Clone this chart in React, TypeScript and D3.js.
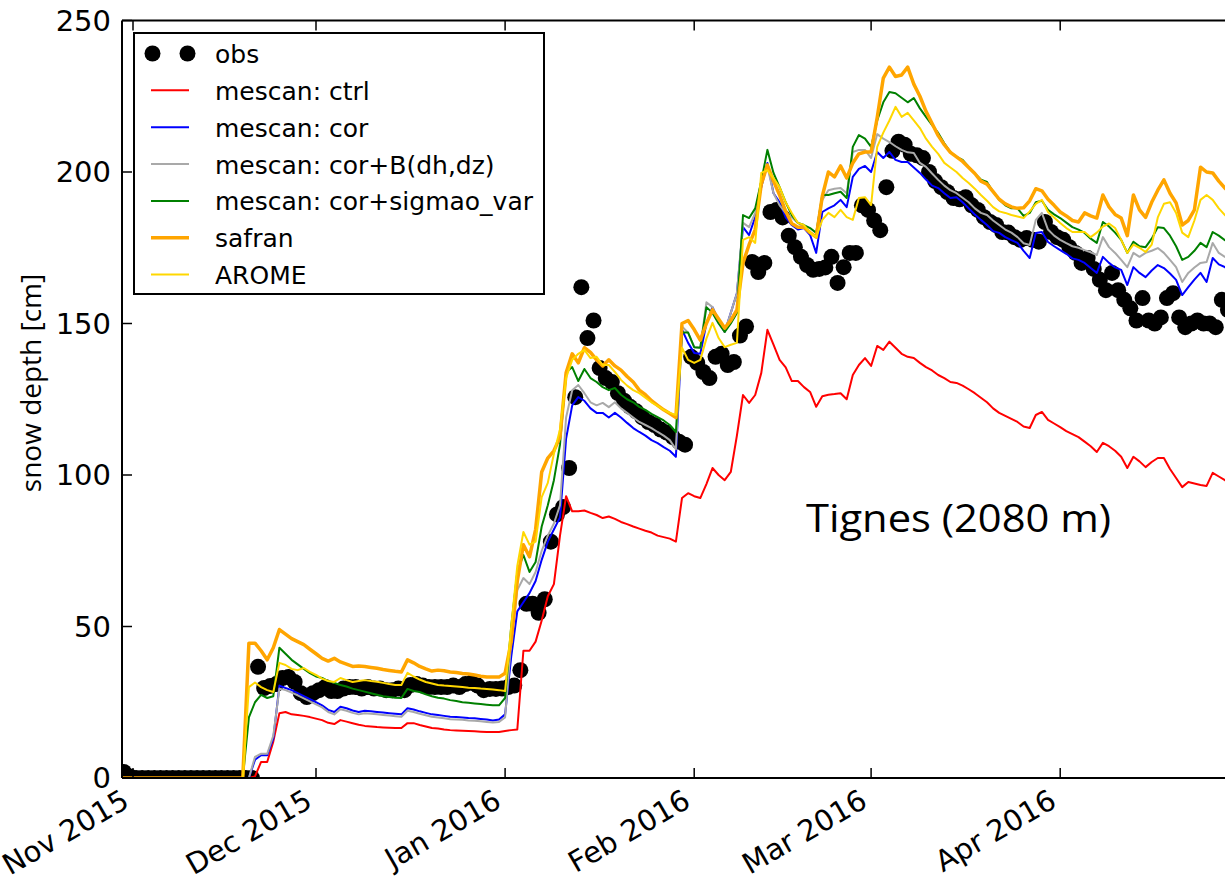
import React from "react";
import * as d3 from "d3";

const firstDay = "2015-10-30";

const obsDepth = [
  2, 0.5,
  0, 0, 0, 0, 0, 0, 0, 0, 0, 0, 0, 0, 0, 0, 0, 0, 0, 0, 0, 0,
  36.7, 29.7, 30.4, 31, 33, 33.3, 31.7, 28, 26.7, 28,
  29, 30, 28.7, 28.7, 29.5, 30, 30, 29.5, 30, 29.5,
  29.5, 29, 29, 29.5, 29, 30.7, 31, 30.5, 30, 30,
  30, 30, 30.5, 30, 31, 31.4, 30.5, 29, 29.4, 29.4,
  29.5, 30, 30.5, 35.6, 57.5, 57.5, 54.5, 59, 78, 87,
  89.4, 102.3, 125.7, 162, 145.2, 151, 135.3, 132, 130.7, 127,
  124.5, 122.5, 121, 119, 117.5, 116.5, 115, 114, 112.5, 111,
  110, 139, 137, 134, 132, 139, 140, 136.3, 137.3, 146,
  149, 170.3, 167, 170, 186.8, 187.5, 185, 179, 175.2, 172,
  169.3, 167.7, 168, 168.5, 172, 163.4, 168.6, 173.3, 173.3, 189,
  187.5, 184, 180.8, 195, 207, 210, 209, 206, 205.5, 204.6,
  200, 197, 195, 193.4, 191.4, 191, 191.7, 189, 187.5, 185.1,
  183.5, 182.5, 180.2, 180, 178.5, 177.6, 178.2, 177.6, 177, 183.5,
  180.2, 178.5, 177.6, 175.2, 173.3, 170, 171.6, 168, 164.4, 161,
  166.7, 161, 157.8, 155, 151, 158.4, 151, 150, 152, 158.4,
  160, 152, 148.8, 150, 151, 150, 150, 148.8, 157.8, 154.5,
];

const ctrl = [
  0, 0, 0, 0, 0, 0, 0, 0, 0, 0, 0, 0, 0, 0, 0, 0, 0, 0, 0, 0, 0, 0,
  0.5, 5.3, 5.3, 12, 21.4, 21.8, 21, 20.8, 20.5, 20.1,
  19.6, 19.1, 18.2, 17.8, 19.1, 18.6, 18.1, 17.6, 17.2, 17,
  16.8, 16.7, 16.6, 16.5, 16.5, 18.1, 18.1, 17.5, 17, 16.5,
  16.3, 16, 15.8, 15.7, 15.6, 15.5, 15.4, 15.3, 15.2, 15.2,
  15.2, 15.5, 15.8, 16, 42, 42, 45, 52, 60, 64,
  80, 93, 88, 88, 88.3, 87.5, 86.8, 85.8, 86.3, 85.5,
  84.5, 83.8, 83, 82.3, 81.6, 81, 80, 79.5, 79, 78,
  92.4, 94, 93, 92.4, 97, 102.3, 100, 98.3, 101, 113,
  126.4, 123.8, 126.4, 133.7, 147.9, 143, 138, 135.5, 131, 131,
  129, 127.4, 122.5, 126, 126.5, 126.7, 127, 125, 133, 136.3,
  138.6, 136, 142.6, 141.3, 144, 142, 140, 139, 138.6, 137,
  135.6, 134.5, 133, 132, 130.7, 130.4, 129.5, 128.3, 127, 125.5,
  124, 122, 120.5, 119.5, 118.5, 117.5, 116, 115.5, 119.8, 120.8,
  118.2, 117, 115.8, 114.5, 113.5, 112.5, 111, 109.5, 107.6, 110.6,
  109.5, 108, 106, 102.3, 106, 104.5, 102.6, 104.3, 105.6, 105.6,
  102, 99, 96, 97.7, 97.2, 96.7, 96.4, 100.7, 99.5, 98.3,
  97,
];

const cor = [
  0, 0, 0, 0, 0, 0, 0, 0, 0, 0, 0, 0, 0, 0, 0, 0, 0, 0, 0, 0, 0, 0,
  6, 7.5, 7.5, 13, 30.5, 29.7, 29, 28, 27, 26,
  25, 24, 22.5, 21.8, 23.5, 23, 22.3, 21.8, 22.2, 22,
  21.8, 21.6, 21.4, 21.2, 21, 23, 22.6, 22, 21.5, 21,
  20.8, 20.5, 20.2, 20.1, 20, 19.8, 19.7, 19.5, 19.3, 19,
  19.3, 21, 40, 55, 58, 61, 65, 72, 78, 82,
  86, 112, 123, 125.7, 124.5, 122, 120.5, 120.5, 119, 120.5,
  119, 117.2, 115.5, 114.2, 113, 111.5, 110.5, 109.2, 108, 106,
  148, 143.6, 140.3, 140, 150, 155.4, 151, 147.2, 153.5, 160,
  181.8, 179.2, 185.1, 195, 203, 193, 190, 185, 182.5, 181,
  181.5, 179.2, 173.3, 186.8, 188, 189, 190.8, 188.4, 198.4, 201,
  202, 200, 206.6, 204.6, 206.6, 204, 203.3, 203.3, 201.5, 199.7,
  197.5, 195.5, 194.7, 193, 191.4, 191.7, 190, 188, 186, 184.2,
  182.5, 180.5, 179.9, 178.5, 177.5, 176.6, 174, 171.6, 179.9, 180.2,
  176.9, 175.5, 174.2, 173, 171.5, 171, 170, 168.3, 166.7, 172,
  170, 168.5, 167.7, 162.7, 168.6, 166.7, 165.3, 167.5, 169.3, 168.3,
  166.5, 164.4, 159.4, 162, 164.5, 166.7, 163.7, 171.6, 169.5, 168.6,
  167,
];

const corB = [
  0, 0, 0, 0, 0, 0, 0, 0, 0, 0, 0, 0, 0, 0, 0, 0, 0, 0, 0, 0, 0, 0,
  7, 8, 8, 14, 29.5, 29, 28.2, 27.3, 26.3, 25.3,
  24.3, 23.3, 21.8, 21, 22.7, 22.2, 21.5, 21, 21.4, 21.2,
  21, 20.8, 20.6, 20.4, 20.2, 22.2, 21.8, 21.2, 20.7, 20.2,
  20, 19.7, 19.4, 19.3, 19.2, 19, 18.9, 18.7, 18.5, 18.3,
  18.5, 20, 45, 62, 66, 64, 68, 75, 80, 84,
  90, 119, 128, 129.7, 127, 124, 123, 123.8, 122.4, 124,
  122, 120.5, 119, 117.5, 116.5, 115.5, 114.2, 113, 111.5, 108.5,
  149, 147, 142.2, 142, 157, 155.4, 151, 147.2, 153.5, 160,
  183.2, 181.8, 186.5, 197, 201.7, 193, 189, 186.5, 185, 183.2,
  181.8, 180, 178.5, 190.8, 194, 194.5, 194.7, 193, 206.6, 207.3,
  207.3, 204.6, 212.5, 211, 209.9, 208.5, 207.3, 206.5, 206.3, 203,
  201.7, 199.5, 197.4, 195.5, 194, 193, 191.5, 190, 188, 186.5,
  185.8, 184, 182.5, 181, 180, 178.5, 176.5, 175.9, 184.2, 186.5,
  181, 179, 177.6, 176.5, 175.5, 175, 174.2, 173.5, 172.6, 178.5,
  175.2, 173.3, 171, 168.6, 173.3, 172, 173.3, 174, 174.9, 173.3,
  171, 168.6, 163.7, 166.7, 168.5, 170, 170.3, 176.6, 173.3, 172,
  171,
];

const sigmao = [
  0, 0, 0, 0, 0, 0, 0, 0, 0, 0, 0, 0, 0, 0, 0, 0, 0, 0, 0, 0, 0,
  20, 25, 27.4, 26.4, 27, 43, 41, 39, 37.5, 36,
  34.6, 33.5, 33, 32, 31.4, 30.7, 30.2, 29.5, 29, 28.5,
  28, 27.5, 27, 26.7, 26.5, 26.4, 29.4, 28.7, 28.4, 27.6,
  27, 26.5, 26.2, 25.7, 25.4, 25, 24.8, 24.6, 24.4, 24.2,
  24, 24, 26.4, 50, 68, 73.6, 68, 71.3, 83, 90,
  98.3, 110, 134, 135.6, 131, 135, 132, 130.7, 129, 128,
  128.7, 126.5, 125, 124, 122.5, 121.5, 120.2, 119.1, 118, 116.5,
  114.2, 147, 147, 142.2, 142, 155.4, 153.5, 150, 147.2, 150,
  153.5, 185.8, 184.8, 188, 197, 207.3, 199.7, 195, 190, 185.8,
  183.2, 182.5, 181.5, 179.9, 192.4, 192.4, 193, 193.5, 191.4, 208.3,
  212.2, 211, 208.3, 217, 223, 226.4, 226, 224.5, 223, 224.4,
  221, 218.2, 215.5, 212.9, 209.5, 206.6, 205, 204, 201.7, 199.5,
  197.5, 196.7, 193.5, 190.8, 189, 188, 188, 185.5, 186.5, 190,
  190.5, 187.5, 186, 184.8, 183.3, 181.8, 181, 179.9, 178, 176.6,
  183.5, 182, 180, 177.6, 173.3, 177, 175.5, 175.2, 178, 181.8,
  181.5, 179, 175.5, 171, 172, 174, 176.6, 175.2, 180.2, 179,
  177.5, 177,
];

const safran = [
  0, 0, 0, 0, 0, 0, 0, 0, 0, 0, 0, 0, 0, 0, 0, 0, 0, 0, 0, 0, 0,
  44.5, 44.5, 42, 39, 43, 49, 47.5, 46, 45, 44,
  42.5, 41, 39.5, 38.6, 39.5, 38.3, 37.6, 36.8, 37, 36.8,
  36.5, 36.2, 35.8, 35.5, 35.2, 35, 39, 38, 36.8, 36,
  35.3, 35.6, 35.4, 35, 34.8, 34.5, 34.3, 34, 33.6, 33.3,
  33.3, 33.3, 34.6, 45, 65, 77, 73, 82, 101, 105.6,
  108, 112.5, 133.7, 140, 137, 142, 140.5, 138, 136, 138,
  136, 134.6, 132.5, 130.7, 128, 126.5, 124.5, 123, 121.5, 120.3,
  119, 150, 151, 148, 144.5, 150, 154.5, 151.5, 148.5, 151,
  154.5, 170, 176, 181, 196, 202.3, 197, 192.4, 187, 183,
  181.8, 181.8, 180, 178.5, 192, 200, 198.4, 202, 198, 203,
  206, 206.6, 206.6, 218, 231, 234.6, 231.5, 232, 234.6, 229,
  225, 220, 216, 212, 209, 206.5, 205, 203.5, 201.5, 199.5,
  197, 196, 193.5, 191, 189.5, 188.5, 188, 188.2, 190.5, 194.5,
  193.8, 191, 189, 186.8, 185.5, 184, 183.5, 186.5, 185.5, 184.8,
  192.4, 188.5, 186, 184.8, 179, 192.4, 187.5, 185, 190, 194,
  197.4, 193, 189.8, 182.5, 184, 187.5, 201.6, 200, 199.7, 197,
  194.7, 193,
];

const arome = [
  0, 0, 0, 0, 0, 0, 0, 0, 0, 0, 0, 0, 0, 0, 0, 0, 0, 0, 0, 0, 0,
  30, 31.5, 30, 29, 28.4, 38, 37.3, 36, 35.6, 36.3,
  35, 34, 32.8, 32, 31.7, 33, 32.3, 31.7, 32, 32.3,
  32, 31.8, 31.4, 31, 30.7, 30.7, 34.7, 33.5, 32.5, 31.7,
  31.2, 30.7, 30.5, 30.4, 30.2, 30, 29.8, 29.7, 29.5, 29.4,
  29.2, 29, 28.7, 50, 70, 81.2, 77, 78, 92.7, 97.4,
  107, 115, 132, 138, 140, 141.3, 138.6, 139, 136.3, 136.3,
  134, 131.4, 129.5, 128, 127, 125.5, 124, 122.8, 121.5, 120.5,
  119.8, 142, 138, 137, 138, 145, 150.2, 145.2, 142.2, 143,
  143.6, 177.6, 178.5, 176.6, 199.7, 200.6, 198, 195, 190, 186.5,
  183.2, 182.5, 180, 178.5, 184.2, 186.5, 185.1, 187.5, 185.1, 184.2,
  191.4, 191.7, 189.1, 208.3, 213, 217, 221.5, 218.2, 219.5, 217,
  214.5, 211, 208.3, 206, 203, 201.5, 200, 198, 196.4, 194.5,
  192.4, 190.5, 188.4, 187, 186.5, 185.8, 185.3, 184.8, 187, 189.5,
  190.8, 186.8, 185, 183.2, 181.5, 180.2, 180.2, 180.2, 178.5, 180,
  182, 183, 181.5, 177.6, 173.3, 176, 175, 173.6, 176, 185,
  189.5, 190, 186.5, 180, 178.5, 184, 190.8, 192.4, 190.8, 188,
  185.8, 184,
];

const monthTicks = ["2015-11-01", "2015-12-01", "2016-01-01", "2016-02-01", "2016-03-01", "2016-04-01"];
const yTicks = [0, 50, 100, 150, 200, 250];
const seriesNames = [
  "mescan: ctrl",
  "mescan: cor",
  "mescan: cor+B(dh,dz)",
  "mescan: cor+sigmao_var",
  "safran",
  "AROME",
];
const seriesColors = ["#ff0000", "#0000ff", "#a9a9a9", "#008000", "#ffa500", "#ffd700"];
const seriesWidths = [2, 2, 2, 2, 3.5, 2];
const obsName = "obs";
const stationLabel = "Tignes (2080 m)";
const yAxisLabel = "snow depth [cm]";

const DAY = 86400000;

export default function App() {
  const W = 1225;
  const H = 880;
  const plotL = 122;
  const plotT = 20.5;
  const plotB = 778;
  const t0 = Date.parse(firstDay);

  const x = d3
    .scaleUtc()
    .domain([new Date("2015-11-01"), new Date("2016-04-30")])
    .range([133, 1237.1]);
  const y = d3.scaleLinear().domain([0, 250]).range([plotB, plotT]);

  const series = [ctrl, cor, corB, sigmao, safran, arome];
  const line = d3
    .line<number>()
    .x((_, i) => x(new Date(t0 + i * DAY)))
    .y((v) => y(v));

  const fmt = d3.utcFormat("%b %Y");
  const tickFont = "'DejaVu Sans', sans-serif";

  const legendX = 134;
  const legendY = 33;
  const rowY0 = 53.5;
  const rowStep = 36.85;

  return (
    <div style={{ position: "absolute", left: 0, top: 0, width: W, height: H, overflow: "hidden", background: "#fff" }}>
      <svg width={W} height={H} viewBox={`0 0 ${W} ${H}`} style={{ display: "block" }}>
        <defs>
          <clipPath id="plotClip">
            <rect x={plotL} y={plotT} width={W - plotL + 30} height={plotB - plotT} />
          </clipPath>
        </defs>
        <rect x={0} y={0} width={W} height={H} fill="#fff" />

        <g clipPath="url(#plotClip)">
          {obsDepth.map((v, i) => (
            <circle key={"o" + i} cx={x(new Date(t0 + i * DAY + DAY / 2))} cy={y(v)} r={8} fill="#000" />
          ))}
          {series.map((s, k) => (
            <path
              key={"s" + k}
              d={line(s) || ""}
              fill="none"
              stroke={seriesColors[k]}
              strokeWidth={seriesWidths[k]}
              strokeLinejoin="round"
            />
          ))}
        </g>

        {/* spines */}
        <line x1={plotL} y1={plotB} x2={W + 10} y2={plotB} stroke="#000" strokeWidth={2} />
        <line x1={plotL} y1={plotT} x2={W + 10} y2={plotT} stroke="#000" strokeWidth={2} />
        <line x1={plotL} y1={plotT} x2={plotL} y2={plotB} stroke="#000" strokeWidth={2} />

        {/* y ticks */}
        {yTicks.map((t) => (
          <g key={"y" + t}>
            <line x1={plotL} x2={plotL + 10} y1={y(t)} y2={y(t)} stroke="#000" strokeWidth={1.5} />
            <text
              x={111}
              y={y(t)}
              dy="0.36em"
              textAnchor="end"
              fontFamily={tickFont}
              fontSize={29}
              fill="#000"
            >
              {t}
            </text>
          </g>
        ))}

        {/* x ticks */}
        {monthTicks.map((m) => {
          const xv = x(new Date(m));
          return (
            <g key={m}>
              <line x1={xv} x2={xv} y1={plotB} y2={plotB - 10} stroke="#000" strokeWidth={1.5} />
              <line x1={xv} x2={xv} y1={plotT} y2={plotT + 10} stroke="#000" strokeWidth={1.5} />
              <text
                transform={`translate(${xv - 2},806) rotate(-30)`}
                textAnchor="end"
                fontFamily={tickFont}
                fontSize={29}
                fill="#000"
              >
                {fmt(new Date(m))}
              </text>
            </g>
          );
        })}

        {/* y label */}
        <text
          transform="translate(41,383) rotate(-90)"
          textAnchor="middle"
          fontFamily="'Open Sans', sans-serif"
          fontSize={28}
          fill="#000"
        >
          {yAxisLabel}
        </text>

        {/* station label */}
        <text
          x={806}
          y={532}
          fontFamily="'Open Sans', sans-serif"
          fontSize={38}
          textLength={305}
          lengthAdjust="spacingAndGlyphs"
          fill="#000"
        >
          {stationLabel}
        </text>

        {/* legend */}
        <rect x={legendX} y={legendY} width={410} height={261} fill="#fff" stroke="#000" strokeWidth={2} />
        <circle cx={152.5} cy={rowY0} r={8} fill="#000" />
        <circle cx={187.5} cy={rowY0} r={8} fill="#000" />
        <text x={215} y={rowY0 + 9.5} fontFamily={tickFont} fontSize={25} fill="#000">
          {obsName}
        </text>
        {seriesNames.map((n, k) => {
          const ry = rowY0 + (k + 1) * rowStep;
          return (
            <g key={n}>
              <line x1={151} x2={189} y1={ry} y2={ry} stroke={seriesColors[k]} strokeWidth={seriesWidths[k]} />
              <text x={215} y={ry + 9.5} fontFamily={tickFont} fontSize={25} fill="#000">
                {n}
              </text>
            </g>
          );
        })}
      </svg>
    </div>
  );
}
